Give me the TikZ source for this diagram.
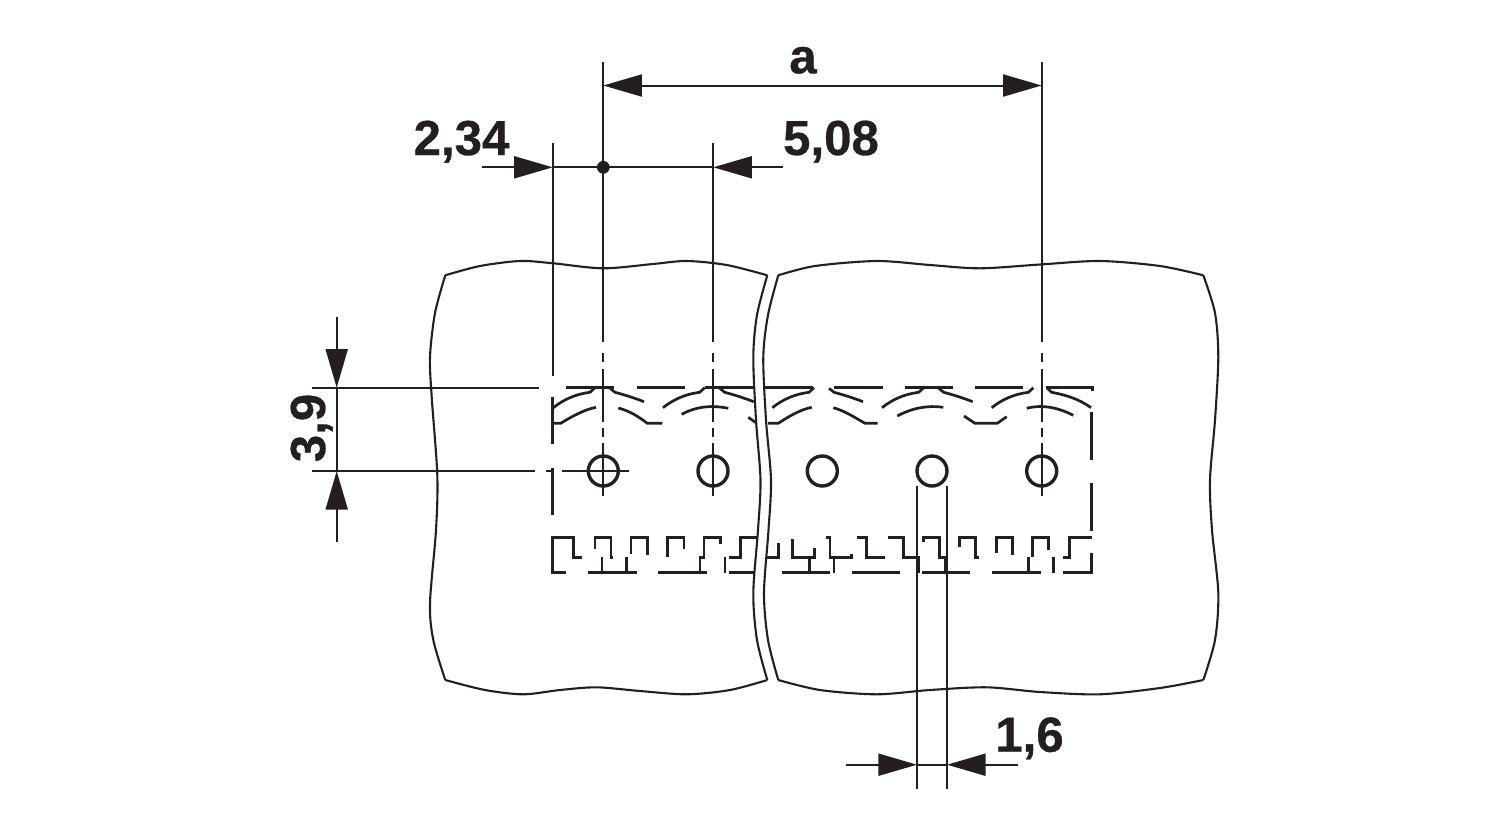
\documentclass[tikz,border=0pt]{standalone}
\usepackage{fontspec}
\setmainfont{Liberation Sans}[BoldFeatures={FakeBold=0.6}]
\usetikzlibrary{arrows.meta}
\definecolor{inkblack}{HTML}{231F20}
\tikzset{
  sheetline/.style={draw=inkblack, line width=1.05pt},
  dimline/.style={draw=inkblack, line width=1pt},
  pinline/.style={draw=inkblack, line width=1.35pt, line join=miter},
  holering/.style={circle, draw=inkblack, line width=1.7pt, minimum size=15pt, inner sep=0pt},
  dimarrow/.style={dimline, -{Triangle[length=19.3pt,width=11pt]}, fill=inkblack},
  dimtext/.style={text=inkblack, font=\bfseries\fontsize{24.6}{26}\selectfont, inner sep=0pt, anchor=base}
}
\begin{document}
\begin{tikzpicture}[x=0.5pt,y=-0.5pt]
\useasboundingbox (0,0) rectangle (1500,820);

% holes
\foreach \hx [count=\i] in {603.3,713,822.3,932,1041.7} {
    \node[holering] (hole\i) at (\hx,471) {};
}

% housing, top edge
\foreach \hx in {603.3,713,822.3,932,1041.7} {
    \draw[pinline] (\hx-50,407.7) .. controls (\hx-39,399) and (\hx-27,394) .. (\hx-13.3,392.3) -- (\hx-8.3,387.7);
}
\foreach \hx in {603.3,713,822.3,932} {
    \draw[pinline] (\hx+6.7,388.3) -- (\hx+11.7,392.3) .. controls (\hx+22,395) and (\hx+31,398) .. (\hx+40.7,401.7);
}
\draw[pinline] (1047.3,388.3) -- (1051.7,392.3) .. controls (1066,395) and (1079,399) .. (1091,407.7);
\foreach \xa/\xb in {566/614,637/685,705/813.3,834/882.7,904.7/953.3,975/1023.3} {
    \draw[pinline] (\xa,387.7) -- (\xb,387.7);
}
\draw[pinline] (1045.7,387.7) -- (1092.3,387.7) -- (1092.3,390.5);

% housing, lower arcs
\draw[pinline] (552.7,423.3) -- (560.7,423.3) .. controls (571,417) and (583,410) .. (596,407.3);
\draw[pinline] (618.3,408) .. controls (630,411) and (639,417) .. (647.3,423.3) -- (662.3,423.3);
\draw[pinline] (681.7,414.3) .. controls (697,406) and (713,405) .. (728.3,408.3);
\draw[pinline] (748.3,417.3) -- (756.7,423.3);
\draw[pinline] (768,423.3) -- (778.3,423.3) .. controls (788,417) and (799,410) .. (811.7,407.3);
\draw[pinline] (833.3,407.7) .. controls (845,411) and (854,417) .. (865,423.3) -- (877.7,423.3);
\draw[pinline] (897.3,416) .. controls (912,408) and (928,405) .. (943.3,407.3);
\draw[pinline] (964,416) -- (975,423.3) -- (997.3,423.3) -- (1006.7,416.7);
\draw[pinline] (1026.7,408.3) .. controls (1043,404) and (1059,408) .. (1073.3,415.3);

% housing, side walls
\draw[pinline] (552.7,396.7) -- (552.7,444);
\draw[pinline] (552.7,467.7) -- (552.7,515);
\draw[pinline] (1091.7,412.3) -- (1091.7,460);
\draw[pinline] (1091.7,483.3) -- (1091.7,530.7);

% housing, toothed bottom edge
\draw[pinline] (566,572.3) -- (552.7,572.3) -- (552.7,537.7) -- (573.3,537.7) -- (573.3,557.3) -- (582.3,557.3);
\draw[pinline] (595,549) -- (595,537.7) -- (611,537.7) -- (611,557.3) -- (613.3,557.3);
\draw[pinline] (631,554.3) -- (631,537.7) -- (647.3,537.7) -- (647.3,555);
\draw[pinline] (667.3,557.3) -- (667.3,537.7) -- (684,537.7) -- (684,549.3);
\draw[pinline] (720.7,544) -- (720.7,537.7) -- (704,537.7) -- (704,557.3) -- (700,557.3) -- (700,572.3);
\draw[pinline] (729,557.3) -- (740.7,557.3) -- (740.7,537.7) -- (756.7,537.7);
\draw[pinline] (765.7,557.3) -- (778.3,557.3) -- (778.3,542.7);
\draw[pinline] (792.7,539.3) -- (792.7,557.3) -- (814.3,557.3) -- (814.3,548.3);
\draw[pinline] (826,537.7) -- (830,537.7) -- (830,557.3) -- (851.7,557.3) -- (851.7,554.3);
\draw[pinline] (857.3,537.7) -- (866.7,537.7) -- (866.7,557.3) -- (885,557.3);
\draw[pinline] (888.3,537.7) -- (903.3,537.7) -- (903.3,557.3) -- (919,557.3) -- (919,572.7);
\draw[pinline] (923.3,541.7) -- (923.3,537.7) -- (939.3,537.7) -- (939.3,557.3) -- (945,557.3) -- (945,572.3);
\draw[pinline] (959.3,547.3) -- (959.3,537.7) -- (975.7,537.7) -- (975.7,557.3) -- (979,557.3);
\draw[pinline] (996.7,553.3) -- (996.7,537.7) -- (1012.3,537.7) -- (1012.3,555);
\draw[pinline] (1032.3,557.3) -- (1032.3,537.7) -- (1048.7,537.7) -- (1048.7,550);
\draw[pinline] (1063.3,557.3) -- (1069.3,557.3) -- (1069.3,537.7) -- (1091.7,537.7);
\draw[pinline] (1062.7,572.3) -- (1091.7,572.3) -- (1091.7,553.3);
\foreach \xa/\xb in {587.7/636.7,658.3/706.7,729/754,781.7/830,851.7/900,922/970,992.3/1040.7} {
    \draw[pinline] (\xa,572.3) -- (\xb,572.3);
}
\foreach \hx in {602,626.7,725,809.3,834,1028.3,1053.3} {
    \draw[pinline] (\hx,556.7) -- (\hx,572.8);
}

% gap between the two sheets
\fill[white] plot[smooth] coordinates {(767.3,275.3) (757,315) (753.3,357) (756,420) (760.5,480) (758,530) (753.3,593) (757,640) (767.3,680)}
    -- plot[smooth] coordinates {(778.3,680) (768,640) (764,593) (768.5,530) (771,480) (766,420) (763.3,357) (768,315) (778.3,275.3)} -- cycle;

% left sheet
\draw[sheetline] plot[smooth] coordinates {(445.3,275.3) (480,266) (520,261) (553.3,263.3) (603,268.3) (653,264) (686.7,261) (726.7,265) (767.3,275.3)};
\draw[sheetline] plot[smooth] coordinates {(767.3,275.3) (757,315) (753.3,357) (756,420) (760.5,480) (758,530) (753.3,593) (757,640) (767.3,680)};
\draw[sheetline] plot[smooth] coordinates {(767.3,680) (730,690) (686.7,694.3) (640,691) (596.7,687.3) (560,690) (523.3,694.3) (485,690) (445.3,680)};
\draw[sheetline] plot[smooth] coordinates {(445.3,680) (433.3,640) (430,603) (436,530) (437.3,475) (431.7,397) (430,357) (435,313) (445.3,275.3)};

% right sheet
\draw[sheetline] plot[smooth] coordinates {(778.3,275.3) (815,266) (876.7,261) (930,265) (980,268.3) (1040,264.5) (1100,261) (1160,266) (1203.3,275.3)};
\draw[sheetline] plot[smooth] coordinates {(1203.3,275.3) (1215,313) (1218.3,357) (1215,420) (1210,480) (1212,530) (1218.3,593) (1215,640) (1203.3,680)};
\draw[sheetline] plot[smooth] coordinates {(1203.3,680) (1160,688) (1100,694.3) (1040,692) (986.7,687.3) (930,690) (876.7,694.3) (820,690) (778.3,680)};
\draw[sheetline] plot[smooth] coordinates {(778.3,680) (768,640) (764,593) (768.5,530) (771,480) (766,420) (763.3,357) (768,315) (778.3,275.3)};

% centre lines
\foreach \hname/\ytop in {hole1/61.7,hole2/143.3,hole5/61.7} {
    \draw[dimline] (\hname.center |- 0,\ytop) -- (\hname.center |- 0,341.7);
    \draw[dimline] (\hname.center |- 0,353.3) -- (\hname.center |- 0,361.7);
    \draw[dimline] (\hname.center |- 0,369.3) -- (\hname.center |- 0,421.7);
    \draw[dimline] (\hname.center |- 0,428.3) -- (\hname.center |- 0,436.7);
    \draw[dimline] (\hname.center |- 0,443.3) -- (\hname.center |- 0,496);
}
\draw[dimline] (561.7,471) -- (629.3,471);

% extension lines
\coordinate (extAtop) at (552.7,143.3);
\coordinate (extAbot) at (552.7,376);
\draw[dimline] (extAtop) -- (extAbot);
\coordinate (extBtop) at (312.3,387.7);
\coordinate (extBend) at (539.3,387.7);
\draw[dimline] (extBtop) -- (extBend);
\coordinate (extCtop) at (312.3,471);
\coordinate (extCend) at (535,471);
\draw[dimline] (extCtop) -- (extCend);
\draw[dimline] (546,471) -- (552.7,471);
\foreach \ex in {917,947} {
    \draw[dimline] (\ex,486) -- (\ex,789);
}

% dimension a
\coordinate (dimAl) at (603.3,85.5);
\coordinate (dimAr) at (1041.7,85.5);
\coordinate (dimAm) at (822,85.5);
\draw[dimarrow] (dimAm) -- (dimAl);
\draw[dimarrow] (dimAm) -- (dimAr);
\node[dimtext] (labelA) at (803,73.3) {a};

% dimensions 2,34 and 5,08
\coordinate (dimBl) at (552.7,167.3);
\coordinate (dimBr) at (713.3,167.3);
\coordinate (dimBls) at (481.7,167.3);
\coordinate (dimBrs) at (783.3,167.3);
\draw[dimline] (dimBl) -- (dimBr);
\draw[dimarrow] (dimBls) -- (dimBl);
\draw[dimarrow] (dimBrs) -- (dimBr);
\node[circle, fill=inkblack, minimum size=6.4pt, inner sep=0pt] (dimDot) at (603.3,167.3) {};
\node[dimtext] (labelB) at (461.5,155) {2,34};
\node[dimtext] (labelC) at (831,155) {5,08};

% dimension 3,9
\coordinate (dimCt) at (336.7,387.7);
\coordinate (dimCb) at (336.7,471);
\coordinate (dimCts) at (336.7,316.7);
\coordinate (dimCbs) at (336.7,541.7);
\draw[dimline] (dimCt) -- (dimCb);
\draw[dimarrow] (dimCts) -- (dimCt);
\draw[dimarrow] (dimCbs) -- (dimCb);
\node[dimtext, rotate=90] (labelD) at (325,428) {3,9};

% dimension 1,6
\coordinate (dimDl) at (917,764.7);
\coordinate (dimDr) at (947,764.7);
\coordinate (dimDls) at (846,764.7);
\coordinate (dimDrs) at (1018,764.7);
\draw[dimline] (dimDl) -- (dimDr);
\draw[dimarrow] (dimDls) -- (dimDl);
\draw[dimarrow] (dimDrs) -- (dimDr);
\node[dimtext] (labelE) at (1029.5,751.7) {1,6};

\end{tikzpicture}
\end{document}
